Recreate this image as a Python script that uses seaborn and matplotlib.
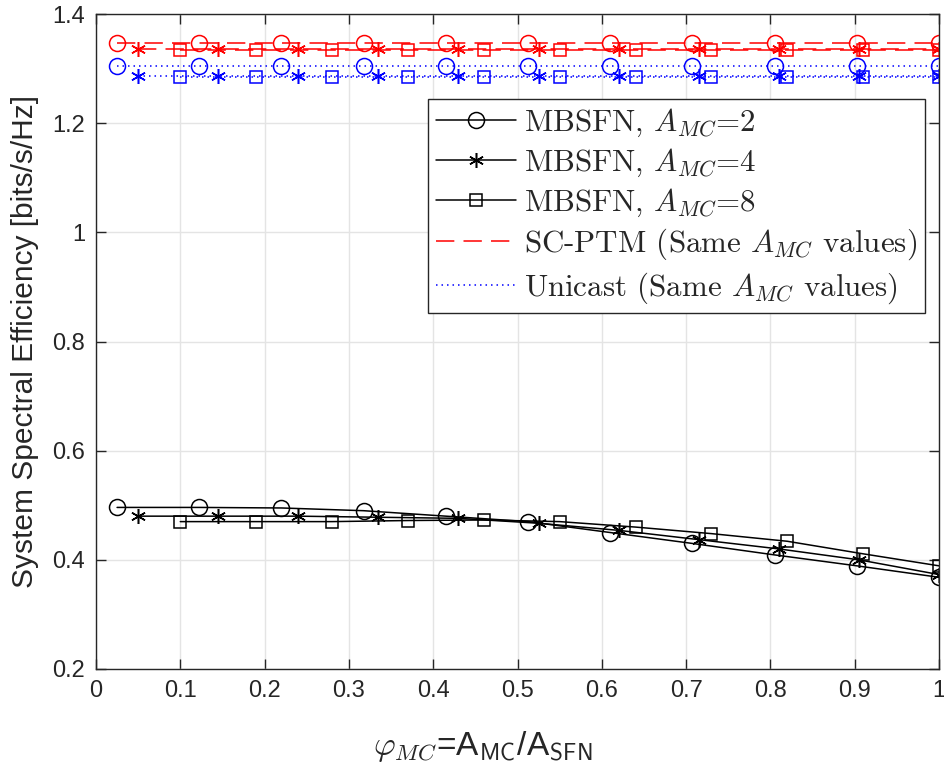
import numpy as np
import pandas as pd
import matplotlib
matplotlib.use("Agg")
import matplotlib.pyplot as plt
from matplotlib.lines import Line2D
import seaborn as sns

# marker positions (phi_MC) for each A_MC
x_a2 = [0.025, 0.1225, 0.22, 0.3175, 0.415, 0.5125, 0.61, 0.7075, 0.805, 0.9025, 1.0]
x_a4 = [0.05, 0.145, 0.24, 0.335, 0.43, 0.525, 0.62, 0.715, 0.81, 0.905, 1.0]
x_a8 = [0.1, 0.19, 0.28, 0.37, 0.46, 0.55, 0.64, 0.73, 0.82, 0.91, 1.0]

# MBSFN spectral efficiency
mbsfn_a2 = [0.496, 0.496, 0.495, 0.490, 0.480, 0.470, 0.450, 0.430, 0.409, 0.389, 0.368]
mbsfn_a4 = [0.480, 0.480, 0.480, 0.478, 0.476, 0.467, 0.454, 0.437, 0.420, 0.400, 0.373]
mbsfn_a8 = [0.470, 0.470, 0.470, 0.472, 0.473, 0.470, 0.460, 0.448, 0.434, 0.411, 0.389]

# SC-PTM
scptm_a2 = [1.347, 1.347, 1.347, 1.347, 1.347, 1.347, 1.347, 1.347, 1.347, 1.347, 1.347]
scptm_a4 = [1.336, 1.336, 1.336, 1.336, 1.336, 1.336, 1.336, 1.336, 1.336, 1.336, 1.336]
scptm_a8 = [1.335, 1.335, 1.335, 1.335, 1.335, 1.335, 1.335, 1.335, 1.335, 1.335, 1.335]

# Unicast
uni_a2 = [1.304, 1.304, 1.304, 1.304, 1.304, 1.304, 1.304, 1.304, 1.304, 1.304, 1.304]
uni_a4 = [1.287, 1.287, 1.287, 1.287, 1.287, 1.287, 1.287, 1.287, 1.287, 1.287, 1.287]
uni_a8 = [1.285, 1.285, 1.285, 1.285, 1.285, 1.285, 1.285, 1.285, 1.285, 1.285, 1.285]

xticks = [0, 0.1, 0.2, 0.3, 0.4, 0.5, 0.6, 0.7, 0.8, 0.9, 1.0]
xticklabels = ["0", "0.1", "0.2", "0.3", "0.4", "0.5", "0.6", "0.7", "0.8", "0.9", "1"]
yticks = [0.2, 0.4, 0.6, 0.8, 1.0, 1.2, 1.4]
yticklabels = ["0.2", "0.4", "0.6", "0.8", "1", "1.2", "1.4"]

legend_labels = [
    r"MBSFN, $A_{MC}$=2",
    r"MBSFN, $A_{MC}$=4",
    r"MBSFN, $A_{MC}$=8",
    r"SC-PTM (Same $A_{MC}$ values)",
    r"Unicast (Same $A_{MC}$ values)",
]

sns.set_theme(style="whitegrid")
plt.rcParams["font.family"] = ["Liberation Sans", "DejaVu Sans"]
plt.rcParams["mathtext.fontset"] = "cm"

star = (6, 2, 0)
markers = {"a2": ("o", 11.5), "a4": (star, 10.8), "a8": ("s", 8.6)}

fig = plt.figure(figsize=(9.44, 7.67), dpi=100)
ax = fig.add_axes([0.1017, 0.1278, 0.8930, 0.8539])

series = [
    (x_a2, mbsfn_a2, "a2", "black", "-"),
    (x_a4, mbsfn_a4, "a4", "black", "-"),
    (x_a8, mbsfn_a8, "a8", "black", "-"),
    (x_a2, scptm_a2, "a2", "#ff0000", "--"),
    (x_a4, scptm_a4, "a4", "#ff0000", "--"),
    (x_a8, scptm_a8, "a8", "#ff0000", "--"),
    (x_a2, uni_a2, "a2", "#0000ff", ":"),
    (x_a4, uni_a4, "a4", "#0000ff", ":"),
    (x_a8, uni_a8, "a8", "#0000ff", ":"),
]

for xs, ys, key, col, ls in series:
    df = pd.DataFrame({"x": xs, "y": ys})
    mk, ms = markers[key]
    sns.lineplot(data=df, x="x", y="y", ax=ax, color=col, linestyle=ls,
                 linewidth=1.1, marker=mk, markersize=ms,
                 markerfacecolor="none", markeredgecolor=col,
                 markeredgewidth=1.1, legend=False)
    line = ax.lines[-1]
    if ls == "--":
        line.set_dashes((12, 6))
    elif ls == ":":
        line.set_dashes((1, 2.6))

ax.set_xlim(0, 1)
ax.set_ylim(0.2, 1.4)
ax.set_xticks(xticks)
ax.set_xticklabels(xticklabels)
ax.set_yticks(yticks)
ax.set_yticklabels(yticklabels)
ax.grid(True, color="#e4e4e4", linewidth=1.0)
ax.tick_params(axis="both", which="both", direction="in", length=7, width=1.0,
               colors="#262626", labelsize=17, top=True, right=True,
               bottom=True, left=True, pad=8)
for sp in ax.spines.values():
    sp.set_color("#262626")
    sp.set_linewidth(1.0)
    sp.set_visible(True)

ax.set_ylabel("System Spectral Efficiency [bits/s/Hz]", fontsize=21.5, color="#262626")
ax.yaxis.set_label_coords(-0.068, 0.5)
ax.set_xlabel(r"$\varphi_{MC}$=A$_{\mathsf{MC}}$/A$_{\mathsf{SFN}}$", fontsize=24, color="#262626")
ax.xaxis.set_label_coords(0.459, -0.092)

handles = [
    Line2D([], [], color="black", lw=1.1, marker="o", ms=11.5, mfc="none", mec="black", mew=1.1),
    Line2D([], [], color="black", lw=1.1, marker=star, ms=10.8, mfc="none", mec="black", mew=1.1),
    Line2D([], [], color="black", lw=1.1, marker="s", ms=8.6, mfc="none", mec="black", mew=1.1),
    Line2D([], [], color="#ff0000", lw=1.1, dashes=(12, 6)),
    Line2D([], [], color="#0000ff", lw=1.1, dashes=(1, 2.6)),
]
leg = ax.legend(handles, legend_labels, loc="upper right", bbox_to_anchor=(0.983, 0.87),
                prop={"family": "cmr10", "size": 22.3}, frameon=True, fancybox=False,
                framealpha=1.0, edgecolor="#262626", handlelength=2.6,
                handletextpad=0.25, labelspacing=0.25, borderpad=0.25,
                borderaxespad=0.0)
leg.get_frame().set_linewidth(1.0)

fig.savefig("out.png", dpi=100)
